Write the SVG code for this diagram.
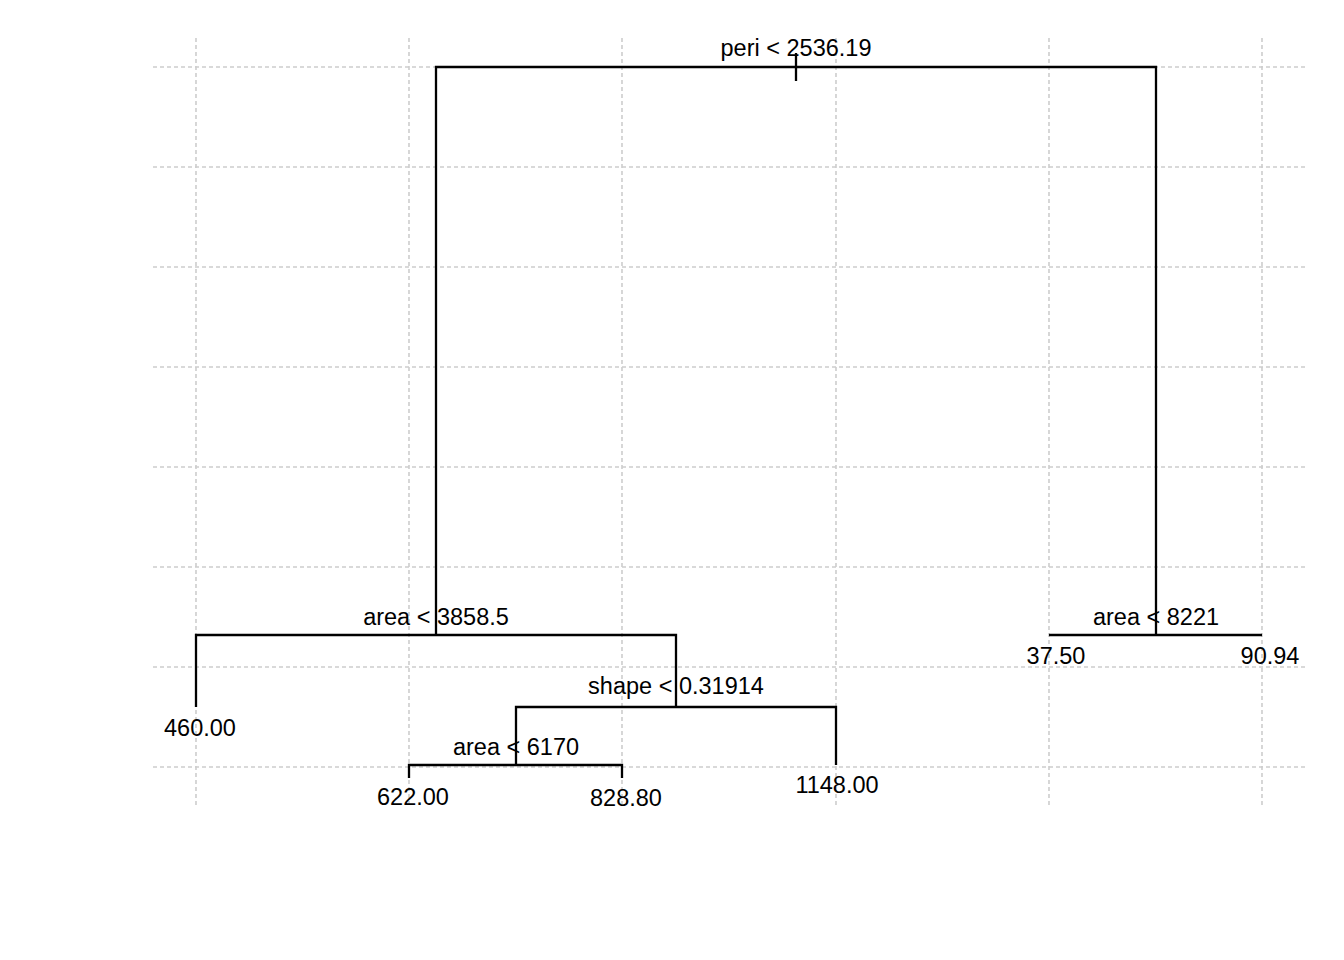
<svg xmlns="http://www.w3.org/2000/svg" width="1344" height="960" viewBox="0 0 1344 960">
<style>
.grid{stroke:#cdcdcd;stroke-width:1.6;stroke-dasharray:4 3;fill:none}
.br{stroke:#000;stroke-width:2.3;fill:none;stroke-linecap:butt}
text{font-family:"Liberation Sans",Arial,Helvetica,sans-serif;font-size:23.5px;fill:#000;text-anchor:middle}
</style>
<rect width="1344" height="960" fill="#fff"/>
<g id="grid">
<path class="grid" d="M153 67H1305M153 167H1305M153 267H1305M153 367H1305M153 467H1305M153 567H1305M153 667H1305M153 767H1305"/>
<path class="grid" d="M196 38V806M409 38V806M622 38V806M836 38V806M1049 38V806M1262 38V806"/>
</g>
<g id="connectors">
<path class="br" d="M796 53V81"/>
<path class="br" d="M436 635V67H1156V635"/>
<path class="br" d="M196 707V635H676V707"/>
<path class="br" d="M516 765V707H836V765"/>
<path class="br" d="M409 778V765H622V778"/>
<path class="br" d="M1049 635H1262"/>
</g>
<g id="node-root"><text x="796" y="56">peri &lt; 2536.19</text></g>
<g id="node-area3858"><text x="436" y="625">area &lt; 3858.5</text></g>
<g id="node-area8221"><text x="1156" y="625">area &lt; 8221</text></g>
<g id="node-shape"><text x="676" y="694">shape &lt; 0.31914</text></g>
<g id="node-area6170"><text x="516" y="755">area &lt; 6170</text></g>
<g id="leaf-460"><text x="200" y="736">460.00</text></g>
<g id="leaf-622"><text x="413" y="805">622.00</text></g>
<g id="leaf-828"><text x="626" y="806">828.80</text></g>
<g id="leaf-1148"><text x="837" y="793">1148.00</text></g>
<g id="leaf-3750"><text x="1056" y="664">37.50</text></g>
<g id="leaf-9094"><text x="1270" y="664">90.94</text></g>
</svg>
